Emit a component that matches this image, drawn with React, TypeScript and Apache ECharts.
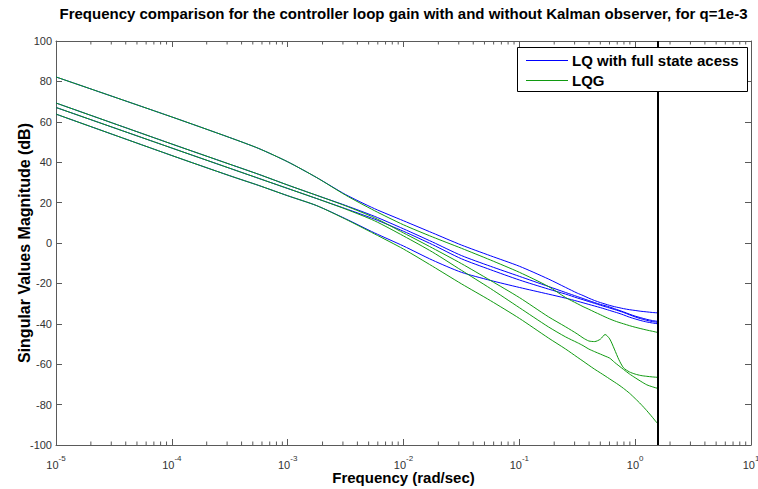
import React, { useEffect, useRef } from 'react';
import * as echarts from 'echarts';

// Frequencies (rad/sec) shared by all curves
const freq = [1e-5, 1e-4, 3.16e-4, 5.62e-4, 1e-3, 1.78e-3, 3.16e-3, 5.62e-3, 1e-2, 1.78e-2, 3.16e-2, 5.62e-2, 0.1, 0.178, 0.251, 0.316, 0.355, 0.398, 0.447, 0.501, 0.55, 0.603, 0.661, 0.724, 0.794, 0.891, 1.0, 1.12, 1.26, 1.41, 1.571];

// LQ with full state access: singular values (dB)
const lqSv1 = [82.2, 62.4, 52.2, 46.8, 40.2, 32.4, 24, 17, 11, 5, -1, -6.3, -11.5, -17.8, -22, -24.8, -26, -27.3, -28.5, -29.5, -30.2, -30.9, -31.5, -32, -32.5, -33, -33.4, -33.8, -34.1, -34.4, -34.6];
const lqSv2 = [69.3, 49, 39, 34, 28.7, 23.6, 18.6, 13.2, 7, 0.5, -6.2, -11.5, -16.5, -21.5, -24.5, -26.5, -27.5, -28.5, -29.5, -30.4, -31, -31.7, -32.5, -33.3, -34.1, -35.2, -36.2, -37, -37.8, -38.4, -38.8];
const lqSv3 = [67.1, 47, 37, 32, 27, 22, 17, 11.8, 5.8, -0.8, -7.8, -13.2, -18.3, -22.8, -25.3, -27.2, -28.1, -29, -29.9, -30.8, -31.5, -32.2, -32.9, -33.6, -34.4, -35.5, -36.6, -37.5, -38.3, -38.9, -39.3];
const lqSv4 = [63.8, 43.3, 33.3, 28.5, 23.4, 18.5, 12, 5, -1.5, -8.5, -14.5, -18.5, -22, -25.3, -27.3, -28.8, -29.6, -30.4, -31.2, -32, -32.7, -33.4, -34.1, -34.8, -35.6, -36.7, -37.6, -38.4, -39.1, -39.6, -40];

// LQG: singular values (dB)
const lqgSv1 = [82.2, 62.4, 52.2, 46.8, 40.2, 32.4, 23.7, 16, 9, 3, -2.6, -8.4, -14.5, -21.5, -27, -30, -31.5, -32.8, -34.2, -35.5, -36.6, -37.6, -38.5, -39.3, -40, -40.9, -41.7, -42.4, -43.1, -43.7, -44.3];
const lqgSv2 = [69.3, 49, 39, 34, 28.7, 23.6, 18.4, 12.5, 5, -2.5, -10.2, -18.5, -27, -36.5, -41.5, -45, -47, -48.5, -48.8, -47.6, -45.3, -47.5, -52.5, -57.8, -61.8, -63.8, -64.9, -65.6, -66, -66.3, -66.5];
const lqgSv3 = [67.1, 47, 37, 32, 27, 22, 16.8, 11, 3.5, -4.5, -13.5, -22.5, -32, -41.5, -46.5, -49.3, -50.8, -52.5, -53.8, -55, -56, -57, -59, -60.8, -62.6, -64.8, -66.7, -68.5, -70.2, -71.2, -72];
const lqgSv4 = [63.8, 43.3, 33.3, 28.5, 23.4, 18.5, 11.8, 4.5, -3, -11.5, -20.2, -28.5, -37.3, -47, -52.5, -56.5, -58.5, -60.5, -62.5, -64.3, -65.8, -67.3, -68.8, -70.3, -72, -74.3, -77, -79.8, -83, -86.3, -89.6];

const decadeExponents = [-5, -4, -3, -2, -1, 0];
const minorMultipliers = [2, 3, 4, 5, 6, 7, 8, 9];
const nyquist = 1.571;
const legendNames = ['LQ with full state acess', 'LQG'];
const titleText = 'Frequency comparison for the controller loop gain with and without Kalman observer, for q=1e-3';
const xName = 'Frequency (rad/sec)';
const yName = 'Singular Values Magnitude (dB)';

const BLUE = '#0000ff';
const GREEN = '#109a10';
const AXIS = '#5a5a5a';
const LABEL = '#333333';
const FONT = '"Liberation Sans", Arial, Helvetica, sans-serif';

export default function App() {
  const ref = useRef<HTMLDivElement>(null);
  useEffect(() => {
    document.body.style.margin = '0';
    const chart = echarts.init(ref.current!, null, { renderer: 'svg' });
    const pair = (vals: number[]) => freq.map((f, i) => [f, vals[i]]);
    const minorTicks: number[][] = [];
    decadeExponents.forEach((e) => minorMultipliers.forEach((m) => minorTicks.push([m * Math.pow(10, e), 0])));

    const lineSeries = (name: string, vals: number[], color: string) => ({
      type: 'line', name, data: pair(vals), showSymbol: false, symbol: 'none', smooth: 0.25,
      lineStyle: { color, width: 1 }, itemStyle: { color }, silent: true, z: color === BLUE ? 2 : 3,
    });

    const xAxisBase = {
      type: 'log', logBase: 10, min: 1e-5, max: 10,
      axisLine: { show: true, onZero: false, lineStyle: { color: AXIS, width: 1 } },
      axisTick: { show: true, inside: true, length: 6, lineStyle: { color: AXIS } },
      splitLine: { show: false }, minorTick: { show: false },
    };
    const yAxisBase = {
      type: 'value', min: -100, max: 100, interval: 20,
      axisLine: { show: true, onZero: false, lineStyle: { color: AXIS, width: 1 } },
      axisTick: { show: true, inside: true, length: 6, lineStyle: { color: AXIS } },
      splitLine: { show: false },
    };

    chart.setOption({
      animation: false,
      backgroundColor: '#ffffff',
      title: {
        text: titleText, left: 403.5, top: 6, padding: 0, textAlign: 'center',
        textStyle: { fontSize: 15, fontWeight: 'bold', color: '#000', fontFamily: FONT },
      },
      grid: { left: 56, right: 7, top: 41, bottom: 44, containLabel: false, outerBoundsMode: 'none' },
      xAxis: [
        {
          ...xAxisBase, position: 'bottom',
          name: xName, nameLocation: 'middle', nameGap: 25, nameMoveOverlap: false,
          nameTextStyle: { fontSize: 15, fontWeight: 'bold', color: '#000', fontFamily: FONT },
          axisLabel: {
            show: true, margin: 9, showMinLabel: true, showMaxLabel: true, hideOverlap: false, color: LABEL, fontFamily: FONT,
            formatter: (v: number) => `{b|10}{s|${Math.round(Math.log10(v))}}`,
            rich: {
              b: { fontSize: 11, lineHeight: 16, verticalAlign: 'bottom', color: LABEL, fontFamily: FONT },
              s: { fontSize: 8, lineHeight: 8, verticalAlign: 'top', color: LABEL, fontFamily: FONT },
            },
          },
        },
        { ...xAxisBase, position: 'top', axisLabel: { show: false } },
      ],
      yAxis: [
        {
          ...yAxisBase, position: 'left',
          name: yName, nameLocation: 'middle', nameGap: 24, nameMoveOverlap: false,
          nameTextStyle: { fontSize: 16, fontWeight: 'bold', color: '#000', fontFamily: FONT },
          axisLabel: { show: true, fontSize: 11, color: LABEL, margin: 4, fontFamily: FONT },
        },
        { ...yAxisBase, position: 'right', axisLabel: { show: false } },
      ],
      series: [
        {
          ...lineSeries(legendNames[0], lqSv1, BLUE),
          markLine: {
            silent: true, symbol: ['none', 'none'], label: { show: false },
            lineStyle: { color: '#000', width: 2, type: 'solid' },
            data: [{ xAxis: nyquist }], z: 5,
          },
        },
        lineSeries(legendNames[0], lqSv2, BLUE),
        lineSeries(legendNames[0], lqSv3, BLUE),
        lineSeries(legendNames[0], lqSv4, BLUE),
        lineSeries(legendNames[1], lqgSv1, GREEN),
        lineSeries(legendNames[1], lqgSv2, GREEN),
        lineSeries(legendNames[1], lqgSv3, GREEN),
        lineSeries(legendNames[1], lqgSv4, GREEN),
        {
          type: 'custom', silent: true, data: minorTicks, encode: { x: 0, y: 1 }, z: 1,
          renderItem: (params: any, api: any) => {
            const x = api.coord([api.value(0), 0])[0];
            const top = params.coordSys.y;
            const bottom = top + params.coordSys.height;
            return {
              type: 'group',
              children: [
                { type: 'line', shape: { x1: x, y1: bottom, x2: x, y2: bottom - 3.5 }, style: { stroke: AXIS, lineWidth: 1 } },
                { type: 'line', shape: { x1: x, y1: top, x2: x, y2: top + 3.5 }, style: { stroke: AXIS, lineWidth: 1 } },
              ],
            };
          },
        },
      ],
      graphic: [
        { type: 'rect', z: 100, shape: { x: 517.5, y: 47.5, width: 230, height: 44 }, style: { fill: '#fff', stroke: '#000', lineWidth: 1 } },
        { type: 'line', z: 101, shape: { x1: 526, y1: 60.5, x2: 568, y2: 60.5 }, style: { stroke: BLUE, lineWidth: 1 } },
        { type: 'line', z: 101, shape: { x1: 526, y1: 80.5, x2: 568, y2: 80.5 }, style: { stroke: GREEN, lineWidth: 1 } },
        {
          type: 'text', z: 101, x: 572, y: 60.5,
          style: { text: legendNames[0], fontSize: 15, fontWeight: 'bold', fontFamily: FONT, fill: '#000', verticalAlign: 'middle', textVerticalAlign: 'middle' },
        },
        {
          type: 'text', z: 101, x: 572, y: 80.5,
          style: { text: legendNames[1], fontSize: 15, fontWeight: 'bold', fontFamily: FONT, fill: '#000', verticalAlign: 'middle', textVerticalAlign: 'middle' },
        },
      ],
    });
    return () => chart.dispose();
  }, []);
  return <div ref={ref} style={{ width: 758, height: 489 }} />;
}
